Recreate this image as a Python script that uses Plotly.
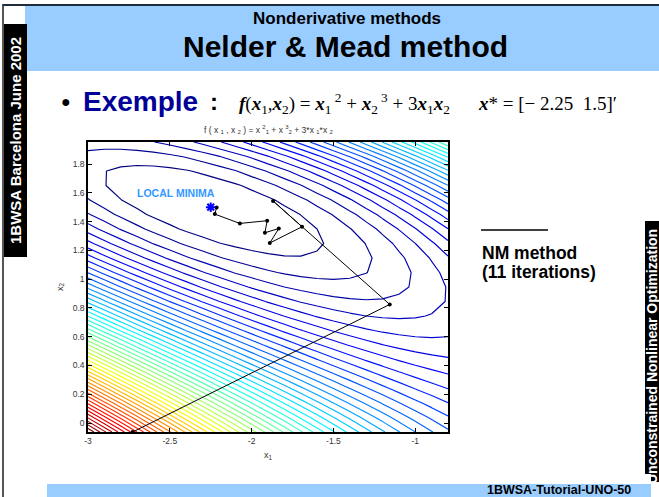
import numpy as np
import plotly.graph_objects as go

# ---- data -------------------------------------------------------------
# f(x1, x2) = x1^2 + x2^3 + 3*x1*x2 evaluated on a coarse grid
x1_grid = np.arange(-3.0, -0.79, 0.1)
x2_grid = np.linspace(-0.0625, 1.953, 21)

# Nelder & Mead iterates (start point first, minimum last)
nm_x1 = [-2.727, -1.156, -1.869, -1.692, -1.889, -1.834, -1.919, -1.905, -2.072, -2.225, -2.214, -2.25]
nm_x2 = [-0.0625, 0.824, 1.543, 1.364, 1.251, 1.352, 1.322, 1.406, 1.387, 1.452, 1.498, 1.5]

x_star = [-2.25]
y_star = [1.5]

x_ticks = [-3, -2.5, -2, -1.5, -1]
y_ticks = [0, 0.2, 0.4, 0.6, 0.8, 1, 1.2, 1.4, 1.6, 1.8]
n_levels = 50

X1, X2 = np.meshgrid(x1_grid, x2_grid)
Z = X1**2 + X2**3 + 3 * X1 * X2
zmin, zmax = float(Z.min()), float(Z.max())
step = (zmax - zmin) / (n_levels + 1)

jet = [[0.0, "rgb(0,0,128)"], [0.125, "rgb(0,0,255)"], [0.375, "rgb(0,255,255)"],
       [0.625, "rgb(255,255,0)"], [0.875, "rgb(255,0,0)"], [1.0, "rgb(128,0,0)"]]

W, H = 659, 497
L, R, T, B = 88, 448, 142, 432


def px(x):
    return (x - L) / (R - L)


def py(y):
    return (B - y) / (B - T)


fig = go.Figure()
fig.add_trace(go.Contour(
    x=x1_grid, y=x2_grid, z=Z,
    contours=dict(start=zmin + step, end=zmax - step / 2, size=step, coloring="lines"),
    colorscale=jet, zmin=zmin, zmax=zmax, zauto=False,
    line=dict(width=1.15, smoothing=0), showscale=False, hoverinfo="skip",
))
fig.add_trace(go.Scatter(
    x=nm_x1, y=nm_x2, mode="lines+markers",
    line=dict(color="black", width=1), marker=dict(color="black", size=4),
    cliponaxis=False, showlegend=False,
))
fig.add_trace(go.Scatter(
    x=x_star, y=y_star, mode="markers",
    marker=dict(symbol="asterisk-open", size=8, color="blue", line=dict(color="blue", width=2)),
    showlegend=False,
))

axis_common = dict(
    showline=True, linecolor="black", linewidth=1.5, mirror="allticks",
    ticks="inside", ticklen=4, tickcolor="black", showgrid=False, zeroline=False,
    tickfont=dict(family="Liberation Sans", size=8.5, color="#333333"),
)
fig.update_xaxes(range=[-3, -0.8], tickvals=x_ticks, ticktext=[str(v) for v in x_ticks],
                 title=dict(text="x<sub>1</sub>", font=dict(family="Liberation Sans", size=9, color="#333333"),
                            standoff=7), **axis_common)
fig.update_yaxes(range=[-0.0625, 1.953], tickvals=y_ticks, ticktext=[f"{v:g}" for v in y_ticks],
                 title=dict(text="x<sub>2</sub>", font=dict(family="Liberation Sans", size=9, color="#333333"),
                            standoff=8), **axis_common)

shapes = []


def rect(x0, x1, y0, y1, color):
    shapes.append(dict(type="rect", xref="paper", yref="paper", x0=px(x0), x1=px(x1),
                       y0=py(y0), y1=py(y1), fillcolor=color, line=dict(width=0), layer="below"))


def hline(x0, x1, y0, y1, color, width):
    shapes.append(dict(type="line", xref="paper", yref="paper", x0=px(x0), x1=px(x1),
                       y0=py(y0), y1=py(y1), line=dict(color=color, width=width)))


# header and footer bands
rect(25, 659, 6, 71, "#99CCFF")
rect(47, 651, 484, 497, "#99CCFF")
# side bands
rect(2, 27, 24, 257, "black")
rect(645, 659, 221, 474, "black")
rect(651, 659, 474, 482, "black")
# frame lines
hline(3, 3, 4, 497, "#555555", 2)
hline(3, 659, 5, 5, "#1d2b3a", 2)
# short rule above the legend text
hline(481, 548, 230, 230, "black", 1.5)

ann = []


def text(x, y, s, size, color="black", family="Liberation Sans", xanchor="center", angle=0):
    ann.append(dict(x=px(x), y=py(y), xref="paper", yref="paper", text=s, showarrow=False,
                    font=dict(family=family, size=size, color=color), xanchor=xanchor,
                    yanchor="middle", textangle=angle))


text(347, 18, "<b>Nonderivative methods</b>", 17)
text(345, 47, "<b>Nelder &amp; Mead method</b>", 30)
text(66, 102, "●", 16)
text(81, 101, "<b>Exemple</b>", 28, color="#000099", xanchor="left")
text(208, 101, "<b>:</b>", 24, xanchor="left")
text(237, 103,
     "<b><i>f</i></b>(<b><i>x</i></b><sub>1</sub>,<b><i>x</i></b><sub>2</sub>) = "
     "<b><i>x</i></b><sub>1</sub><sup> 2</sup> + <b><i>x</i></b><sub>2</sub><sup> 3</sup> + "
     "3<b><i>x</i></b><sub>1</sub><b><i>x</i></b><sub>2</sub>",
     19, family="Liberation Serif", xanchor="left")
text(476, 103, "<b><i>x</i></b>* = [− 2.25  1.5]′", 19, family="Liberation Serif", xanchor="left")
text(268, 129,
     "f ( x <sub>1</sub> , x <sub>2</sub> ) = x <sup>2</sup><sub>1</sub> + x <sup>3</sup><sub>2</sub> + 3*x <sub>1</sub>*x <sub>2</sub>",
     8.5, color="#333333")
text(480, 253, "<b>NM method</b>", 17.5, xanchor="left")
text(480, 272, "<b>(11 iterations)</b>", 17.5, xanchor="left")
text(633, 490, "<b>1BWSA-Tutorial-UNO-50</b>", 12.5, xanchor="right")
text(15, 141, "<b>1BWSA Barcelona June 2002</b>", 15, color="white", angle=-90)
text(652, 357, "<b>Unconstrained Nonlinear Optimization</b>", 14, color="white", angle=-90)

# label near the minimum, in data coordinates
ann.append(dict(x=-2.46, y=1.598, xref="x", yref="y", text="<b>LOCAL MINIMA</b>", showarrow=False,
                font=dict(family="Liberation Sans", size=10.5, color="rgb(51,153,255)")))

fig.update_layout(
    width=W, height=H, margin=dict(l=L, r=W - R, t=T, b=H - B, pad=0),
    paper_bgcolor="white", plot_bgcolor="white", showlegend=False,
    shapes=shapes, annotations=ann,
)

fig.write_html("out.html")
